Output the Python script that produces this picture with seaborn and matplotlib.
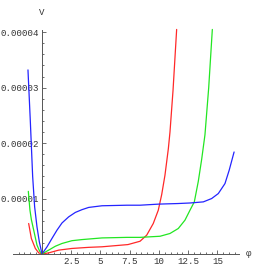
import matplotlib
matplotlib.use("Agg")
import matplotlib.pyplot as plt
from matplotlib.ticker import MultipleLocator, FixedLocator
from matplotlib.transforms import blended_transform_factory
import seaborn as sns

# valores (V em unidades de 1e-5)
phi_azul = [-1.2, -1.0, -0.8, -0.63, -0.43, -0.23, 0.0, 0.43, 0.85,
            1.28, 1.71, 2.28, 2.85, 3.42, 3.99, 5.13, 7.26, 8.38, 10.0, 11.6,
            12.65, 13.79, 14.5, 15.07, 15.64, 16.0, 16.42]
v_azul = [3.32, 2.4, 1.4, 0.85, 0.49, 0.22, 0.0, 0.13, 0.28,
          0.43, 0.56, 0.67, 0.75, 0.80, 0.84, 0.87, 0.88, 0.88, 0.9, 0.91,
          0.92, 0.94, 1.0, 1.09, 1.27, 1.51, 1.84]

phi_verde = [-1.17, -1.03, -0.91, -0.71, -0.43, -0.2, 0.0, 0.57, 1.14, 1.71,
             2.56, 3.42, 5.13, 7.26, 8.38, 10.09, 10.94, 11.65, 12.22, 12.65,
             13.02, 13.36, 13.65, 13.93, 14.25, 14.56]
v_verde = [1.13, 0.79, 0.62, 0.43, 0.16, 0.05, 0.0, 0.07, 0.14, 0.19,
           0.24, 0.26, 0.29, 0.30, 0.30, 0.32, 0.37, 0.46, 0.61, 0.79,
           0.94, 1.31, 1.71, 2.15, 3.0, 4.05]

phi_vermelho = [-1.14, -0.91, -0.57, -0.28, 0.0, 0.57, 1.43, 2.56, 3.99,
                5.13, 7.35, 8.38, 8.95, 9.51, 9.94, 10.23, 10.51, 10.8, 10.94,
                11.2, 11.51]
v_vermelho = [0.55, 0.28, 0.10, 0.02, 0.0, 0.02, 0.07, 0.10, 0.12,
              0.13, 0.17, 0.23, 0.34, 0.55, 0.79, 1.07, 1.42, 1.9, 2.2,
              2.95, 4.05]

x_ticks = [2.5, 5, 7.5, 10, 12.5, 15]
x_labels = ["2.5", "5", "7.5", "10", "12.5", "15"]
y_ticks = [1e-5, 2e-5, 3e-5, 4e-5]
y_labels = ["0.00001", "0.00002", "0.00003", "0.00004"]

sns.set_theme(style="white")
plt.rcParams["font.family"] = ["Liberation Mono", "DejaVu Sans"]

fig = plt.figure(figsize=(2.56, 2.73), dpi=100)
ax = fig.add_axes([13 / 256, 19 / 273, 226 / 256, 224 / 273])

for phi, v, cor in [(phi_vermelho, v_vermelho, "#ff2828"),
                    (phi_verde, v_verde, "#22e622"),
                    (phi_azul, v_azul, "#2424ff")]:
    sns.lineplot(x=phi, y=[val * 1e-5 for val in v], sort=False, color=cor,
                 linewidth=0.9, ax=ax, clip_on=False,
                 solid_joinstyle="round", solid_capstyle="round")

ax.set_xlim(-2.48, 16.84)
ax.set_ylim(0, 4.04e-5)

ax.spines["left"].set_position(("data", 0))
ax.spines["top"].set_visible(False)
ax.spines["right"].set_visible(False)
for s in ["left", "bottom"]:
    ax.spines[s].set_color("#555555")
    ax.spines[s].set_linewidth(0.7)

ax.xaxis.set_major_locator(FixedLocator(x_ticks))
ax.set_xticklabels(x_labels)
ax.xaxis.set_minor_locator(MultipleLocator(0.5))
ax.yaxis.set_major_locator(FixedLocator(y_ticks))
ax.set_yticklabels(y_labels)
ax.yaxis.set_minor_locator(MultipleLocator(0.2e-5))

ax.tick_params(which="both", direction="in", color="#555555", width=0.6,
               labelsize=6.6, labelcolor="#333333", pad=2,
               bottom=True, left=True)
ax.tick_params(which="major", length=3)
ax.tick_params(which="minor", length=1.6)

trans = blended_transform_factory(ax.transData, ax.transAxes)
ax.text(0, 1.08, "V", transform=trans, fontsize=6.6, color="#333333",
        ha="center", va="center")
ax.text(1.04, 0, "φ", transform=ax.transAxes, fontsize=6.6, color="#333333",
        ha="center", va="center")

fig.savefig("out.png", dpi=100)
